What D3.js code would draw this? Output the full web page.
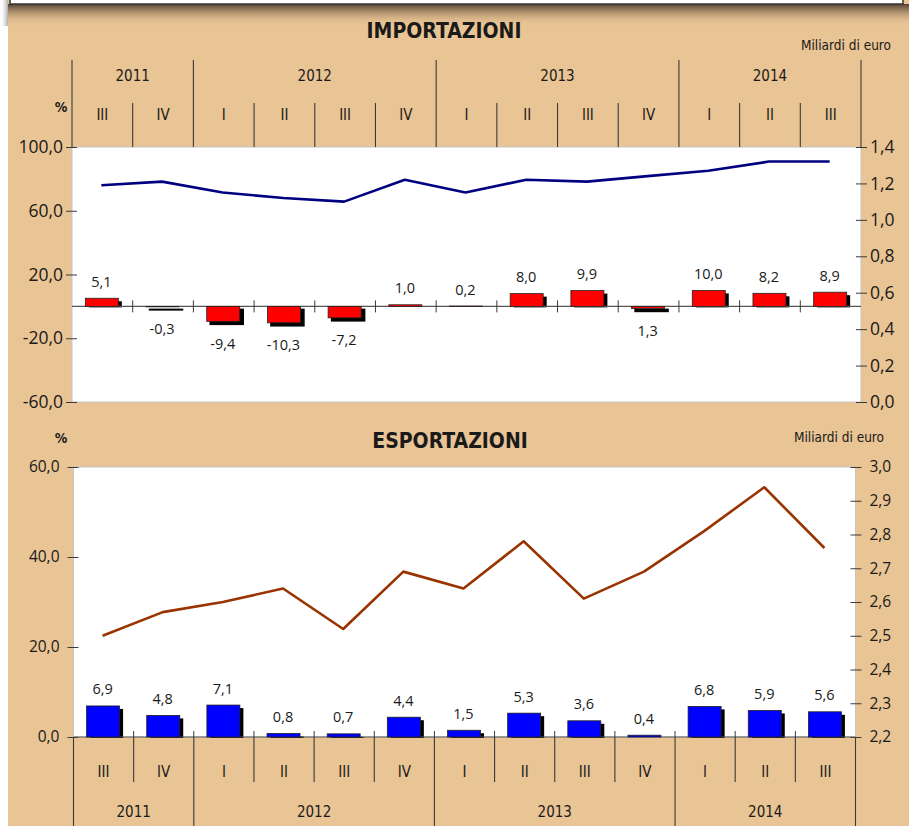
<!DOCTYPE html>
<html>
<head>
<meta charset="utf-8">
<script src="https://cdn.jsdelivr.net/npm/d3@7"></script>
<style>
  body { margin: 0; background: #fff; }
  svg text { font-family: "Open Sans", sans-serif; fill: #1a1a1a; }
  svg text.cond { font-family: "DejaVu Sans Condensed", "DejaVu Sans", sans-serif; font-stretch: condensed; }
</style>
</head>
<body>
<svg id="chart" width="909" height="826"></svg>
<script>
// quarters shown on both panels
var quarters = ["III", "IV", "I", "II", "III", "IV", "I", "II", "III", "IV", "I", "II", "III"];
var quarterYears = ["2011", "2011", "2012", "2012", "2012", "2012", "2013", "2013", "2013", "2013", "2014", "2014", "2014"];

// IMPORTAZIONI: % change (bars) and billions of euro (line)
var impPct = [5.1, -0.3, -9.4, -10.3, -7.2, 1.0, 0.2, 8.0, 9.9, -1.3, 10.0, 8.2, 8.9];
var impPctLabels = ["5,1", "-0,3", "-9,4", "-10,3", "-7,2", "1,0", "0,2", "8,0", "9,9", "1,3", "10,0", "8,2", "8,9"];
var impBn = [1.19, 1.21, 1.15, 1.12, 1.10, 1.22, 1.15, 1.22, 1.21, 1.24, 1.27, 1.32, 1.32];
var impLeftTicks = [-60, -20, 20, 60, 100];
var impRightTicks = [0, 0.2, 0.4, 0.6, 0.8, 1.0, 1.2, 1.4];

// ESPORTAZIONI
var expPct = [6.9, 4.8, 7.1, 0.8, 0.7, 4.4, 1.5, 5.3, 3.6, 0.4, 6.8, 5.9, 5.6];
var expPctLabels = ["6,9", "4,8", "7,1", "0,8", "0,7", "4,4", "1,5", "5,3", "3,6", "0,4", "6,8", "5,9", "5,6"];
var expBn = [2.50, 2.57, 2.60, 2.64, 2.52, 2.69, 2.64, 2.78, 2.61, 2.69, 2.81, 2.94, 2.76];
var expLeftTicks = [0, 20, 40, 60];
var expRightTicks = [2.2, 2.3, 2.4, 2.5, 2.6, 2.7, 2.8, 2.9, 3.0];

var tan = "#e9c494";
var lineCol = "#3a3a3a";
var fmt = function(v) { return d3.format(".1f")(v).replace(".", ",").replace("\u2212", "-"); };

var svg = d3.select("#chart");
var idx = d3.range(quarters.length);
var yearGroups = d3.groups(idx, function(i) { return quarterYears[i]; });

// background, white margin and the banner with its shadow
svg.append("rect").attr("width", 909).attr("height", 826).attr("fill", "#fff");
svg.append("rect").attr("x", 8).attr("width", 901).attr("height", 826).attr("fill", tan);

var defs = svg.append("defs");
var grad = defs.append("linearGradient").attr("id", "shade").attr("x1", 0).attr("y1", 0).attr("x2", 0).attr("y2", 1);
grad.append("stop").attr("offset", "0%").attr("stop-color", "#4a3a2c").attr("stop-opacity", 0.95);
grad.append("stop").attr("offset", "100%").attr("stop-color", tan).attr("stop-opacity", 0);
var gradL = defs.append("linearGradient").attr("id", "shadeL").attr("x1", 1).attr("y1", 0).attr("x2", 0).attr("y2", 0);
gradL.append("stop").attr("offset", "0%").attr("stop-color", "#777").attr("stop-opacity", 0.6);
gradL.append("stop").attr("offset", "100%").attr("stop-color", "#fff").attr("stop-opacity", 0);

svg.append("rect").attr("x", 8).attr("y", 4).attr("width", 901).attr("height", 22).attr("fill", "url(#shade)");
svg.append("rect").attr("x", 0).attr("y", 0).attr("width", 8).attr("height", 26).attr("fill", "url(#shadeL)");
svg.append("rect").attr("x", 10).attr("y", -3).attr("width", 893).attr("height", 7)
  .attr("fill", "#fff").attr("stroke", "#333").attr("stroke-width", 1.5);

function drawPanel(o) {
  var g = svg.append("g");
  var x = d3.scaleBand().domain(idx).range([o.left, o.right]);
  var yL = d3.scaleLinear().domain(o.leftDomain).range([o.bottom, o.top]);
  var yR = d3.scaleLinear().domain(o.rightDomain).range([o.bottom, o.top]);
  var cx = function(i) { return x(i) + x.bandwidth() / 2; };
  var barW = 33;

  g.append("rect").attr("x", o.left).attr("y", o.top)
    .attr("width", o.right - o.left).attr("height", o.bottom - o.top)
    .attr("fill", "#fff").attr("stroke", "#c4c4c4");

  // axes
  var ax = g.append("g").attr("transform", "translate(" + o.left + ",0)")
    .call(d3.axisLeft(yL).tickValues(o.leftTicks).tickFormat(fmt).tickSize(6).tickSizeOuter(0).tickPadding(o.pad));
  var axR = g.append("g").attr("transform", "translate(" + o.right + ",0)")
    .call(d3.axisRight(yR).tickValues(o.rightTicks).tickFormat(fmt).tickSize(6).tickSizeOuter(0).tickPadding(o.pad));
  [ax, axR].forEach(function(a, k) {
    a.select(".domain").remove();
    a.selectAll(".tick line").attr("x1", k ? -5 : 5).attr("stroke", lineCol);
    a.selectAll(".tick text").style("font-size", o.tickFont + "px");
  });

  // shadows, zero line, bars
  var y0 = yL(0);
  g.selectAll(".shadow").data(o.pct).join("rect")
    .attr("x", function(d, i) { return cx(i) - 17 + 3.5; })
    .attr("y", function(d) { return d >= 0 ? yL(d) + 3 : y0 + 3; })
    .attr("width", barW)
    .attr("height", function(d) { return d >= 0 ? Math.max(0, y0 + 1 - yL(d) - 3) : yL(d) - y0; })
    .attr("fill", "#000")
    .attr("stroke", "#000").attr("stroke-width", function(d) { return d < 0 ? 1.5 : 0; });

  g.append("line").attr("x1", o.left).attr("x2", o.right).attr("y1", y0).attr("y2", y0)
    .attr("stroke", "#555").attr("stroke-width", 1.2);
  g.selectAll(".btick").data(d3.range(1, quarters.length)).join("line")
    .attr("x1", function(i) { return x(i); }).attr("x2", function(i) { return x(i); })
    .attr("y1", y0 - 6).attr("y2", y0 + (o.zeroTickDown ? 6 : 0))
    .attr("stroke", lineCol);

  g.selectAll(".bar").data(o.pct).join("rect")
    .attr("x", function(d, i) { return cx(i) - 17; })
    .attr("y", function(d) { return Math.min(yL(d), y0); })
    .attr("width", barW)
    .attr("height", function(d) { return Math.abs(yL(d) - y0); })
    .attr("fill", o.barColor).attr("stroke", "#222").attr("stroke-width", 0.8);

  g.selectAll(".blabel").data(o.pct).join("text")
    .attr("x", function(d, i) { return cx(i) - 1; })
    .attr("y", function(d) { return d >= 0 ? yL(d) - 17 : yL(d) + 22; })
    .attr("text-anchor", "middle").attr("dominant-baseline", "central")
    .style("font-size", "14.5px")
    .text(function(d, i) { return o.labels[i]; });

  // line in billions
  var line = d3.line().x(function(d, i) { return cx(i) - 1; }).y(function(d) { return yR(d); });
  g.append("path").datum(o.bn).attr("d", line)
    .attr("fill", "none").attr("stroke", o.lineColor).attr("stroke-width", 2.6).attr("stroke-linejoin", "round");

  // period grid (above for the top panel, below for the bottom one)
  var p = o.periods;
  var yearEdges = yearGroups.map(function(gp) { return gp[1][0]; });
  var isYearEdge = function(i) { return yearEdges.indexOf(i) >= 0 || i === quarters.length; };
  g.selectAll(".qline").data(d3.range(0, quarters.length + 1)).join("line")
    .attr("x1", function(i) { return i < quarters.length ? x(i) : o.right; })
    .attr("x2", function(i) { return i < quarters.length ? x(i) : o.right; })
    .attr("y1", function(i) { return isYearEdge(i) ? p.yearLineFrom : p.qLineFrom; })
    .attr("y2", function(i) { return isYearEdge(i) ? p.yearLineTo : p.qLineTo; })
    .attr("stroke", lineCol).attr("stroke-width", 1.1);

  g.selectAll(".qlabel").data(quarters).join("text").attr("class", "cond")
    .attr("x", function(d, i) { return cx(i); }).attr("y", p.qLabelY)
    .attr("text-anchor", "middle").attr("dominant-baseline", "central")
    .style("font-size", "15px").text(function(d) { return d; });

  g.selectAll(".ylabel").data(yearGroups).join("text").attr("class", "cond")
    .attr("x", function(d) { var a = d[1][0], b = d[1][d[1].length - 1]; return (x(a) + x(b) + x.bandwidth()) / 2; })
    .attr("y", p.yearLabelY)
    .attr("text-anchor", "middle").attr("dominant-baseline", "central")
    .style("font-size", "15px").text(function(d) { return d[0]; });

  // titles and units
  g.append("text").attr("class", "cond").attr("x", o.titleX).attr("y", o.titleY)
    .attr("text-anchor", "middle").attr("dominant-baseline", "central")
    .style("font-size", "21px").style("font-weight", "bold").text(o.title);
  g.append("text").attr("class", "cond").attr("x", o.unitX).attr("y", o.unitY)
    .attr("text-anchor", "end").attr("dominant-baseline", "central")
    .style("font-size", "13.5px").text("Miliardi di euro");
  g.append("text").attr("class", "cond").attr("x", 61).attr("y", o.pctY)
    .attr("text-anchor", "middle").attr("dominant-baseline", "central")
    .style("font-size", "14px").style("font-weight", "bold").text("%");
}

drawPanel({
  left: 72, right: 861, top: 147, bottom: 402,
  leftDomain: [-60, 100], rightDomain: [0, 1.4],
  leftTicks: impLeftTicks, rightTicks: impRightTicks,
  pct: impPct, labels: impPctLabels, bn: impBn,
  barColor: "#ff0000", lineColor: "#000080",
  tickFont: 17.5, pad: 3, zeroTickDown: true,
  periods: { yearLineFrom: 60, yearLineTo: 147, qLineFrom: 103, qLineTo: 147, yearLabelY: 76, qLabelY: 115 },
  title: "IMPORTAZIONI", titleX: 444, titleY: 31,
  unitX: 891, unitY: 45, pctY: 107
});

drawPanel({
  left: 73.5, right: 855.5, top: 467, bottom: 737,
  leftDomain: [0, 60], rightDomain: [2.2, 3.0],
  leftTicks: expLeftTicks, rightTicks: expRightTicks,
  pct: expPct, labels: expPctLabels, bn: expBn,
  barColor: "#0000ff", lineColor: "#993300",
  tickFont: 15.5, pad: 8, zeroTickDown: false,
  periods: { yearLineFrom: 737, yearLineTo: 826, qLineFrom: 737, qLineTo: 782, yearLabelY: 812, qLabelY: 772 },
  title: "ESPORTAZIONI", titleX: 450, titleY: 441,
  unitX: 884, unitY: 437, pctY: 438
});
</script>
</body>
</html>
